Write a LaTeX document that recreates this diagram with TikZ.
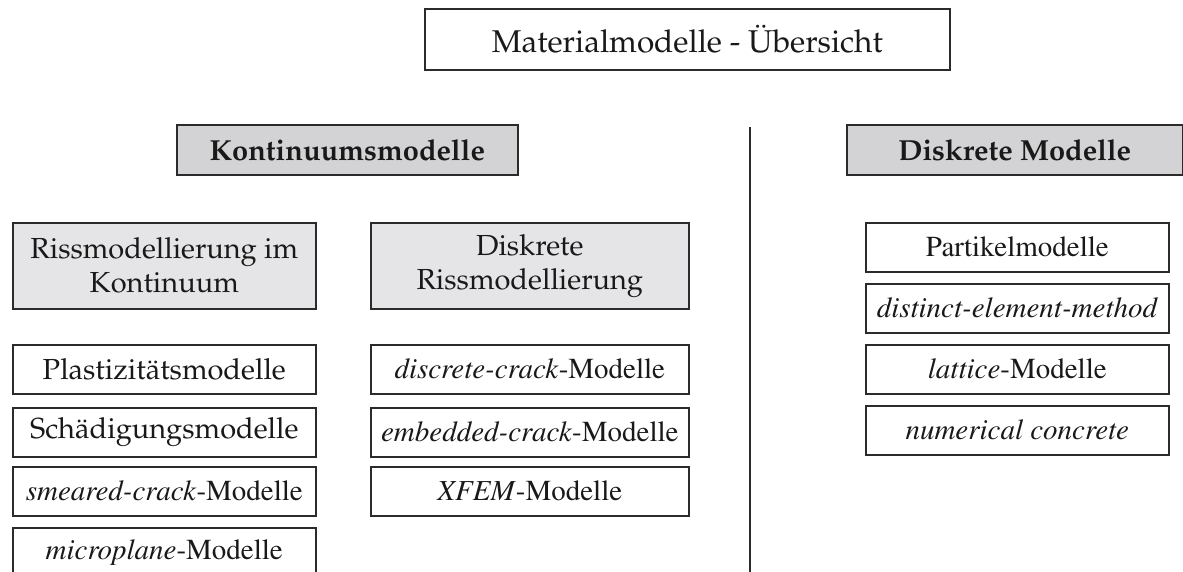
\documentclass[tikz,border=0pt]{standalone}
\usepackage[T1]{fontenc}
\newcommand\palfont{\fontfamily{ppl}\selectfont}
\newcommand\timfont{\fontfamily{ptm}\selectfont}
\definecolor{edge}{HTML}{2B2B2B}
\definecolor{headfill}{HTML}{D3D3D5}
\definecolor{subfill}{HTML}{E5E5E7}
\tikzset{
  box/.style={draw=edge, line width=1.6pt, inner sep=0pt, anchor=north west, align=center, text=black!90},
  titlebox/.style={box, fill=white, minimum width=525pt, minimum height=61pt, font=\palfont\fontsize{31.5}{37}\selectfont},
  headbox/.style={box, fill=headfill, minimum height=50pt, font=\palfont\bfseries\fontsize{29}{34}\selectfont},
  subbox/.style={box, fill=subfill, minimum height=86pt, font=\palfont\fontsize{29}{34}\selectfont},
  palbox/.style={box, fill=white, minimum height=49pt, font=\palfont\fontsize{29}{34}\selectfont},
  timbox/.style={box, fill=white, minimum height=49pt, font=\timfont\fontsize{29}{34}\selectfont},
  divider/.style={draw=edge, line width=2pt}
}
\begin{document}
\begin{tikzpicture}[x=1pt,y=-1pt]
\useasboundingbox (0,0) rectangle (1183,571);
% title
\node[titlebox] (title) at (424,8) {Materialmodelle - \"Ubersicht};
% headers
\node[headbox, minimum width=341pt] (kont) at (176,124) {Kontinuumsmodelle};
\node[headbox, minimum width=336pt] (disk) at (846,124) {Diskrete Modelle};
% divider
\coordinate (ltop) at (750,127);
\coordinate (lbot) at (750,572);
\draw[divider] (ltop) -- (lbot);
% sub headers
\node[subbox, minimum width=303pt] (rik) at (12,222) {Rissmodellierung im\\Kontinuum};
\node[subbox, minimum width=318pt] (drm) at (370,222) {Diskrete\\Rissmodellierung};
% left column
\node[palbox, minimum width=303pt] (pl) at (12,344) {Plastizit\"atsmodelle};
\node[palbox, minimum width=303pt] (sch) at (12,407) {Sch\"adigungsmodelle};
\node[timbox, minimum width=303pt] (sm) at (12,466) {\textit{smeared-crack}-Modelle};
\node[timbox, minimum width=303pt] (mp) at (12,527) {\textit{microplane}-Modelle};
% middle column
\node[timbox, minimum width=318pt] (dc) at (370,344) {\textit{discrete-crack}-Modelle};
\node[timbox, minimum width=318pt] (ec) at (370,407) {\textit{embedded-crack}-Modelle};
\node[timbox, minimum width=318pt] (xf) at (370,466) {\textit{XFEM}-Modelle};
% right column
\node[timbox, minimum width=303pt] (pm) at (865,222) {Partikelmodelle};
\node[timbox, minimum width=303pt] (dem) at (865,283) {\textit{distinct-element-method}};
\node[timbox, minimum width=303pt] (lat) at (865,344) {\textit{lattice}-Modelle};
\node[timbox, minimum width=303pt] (nc) at (865,405) {\textit{numerical concrete}};
\end{tikzpicture}
\end{document}
